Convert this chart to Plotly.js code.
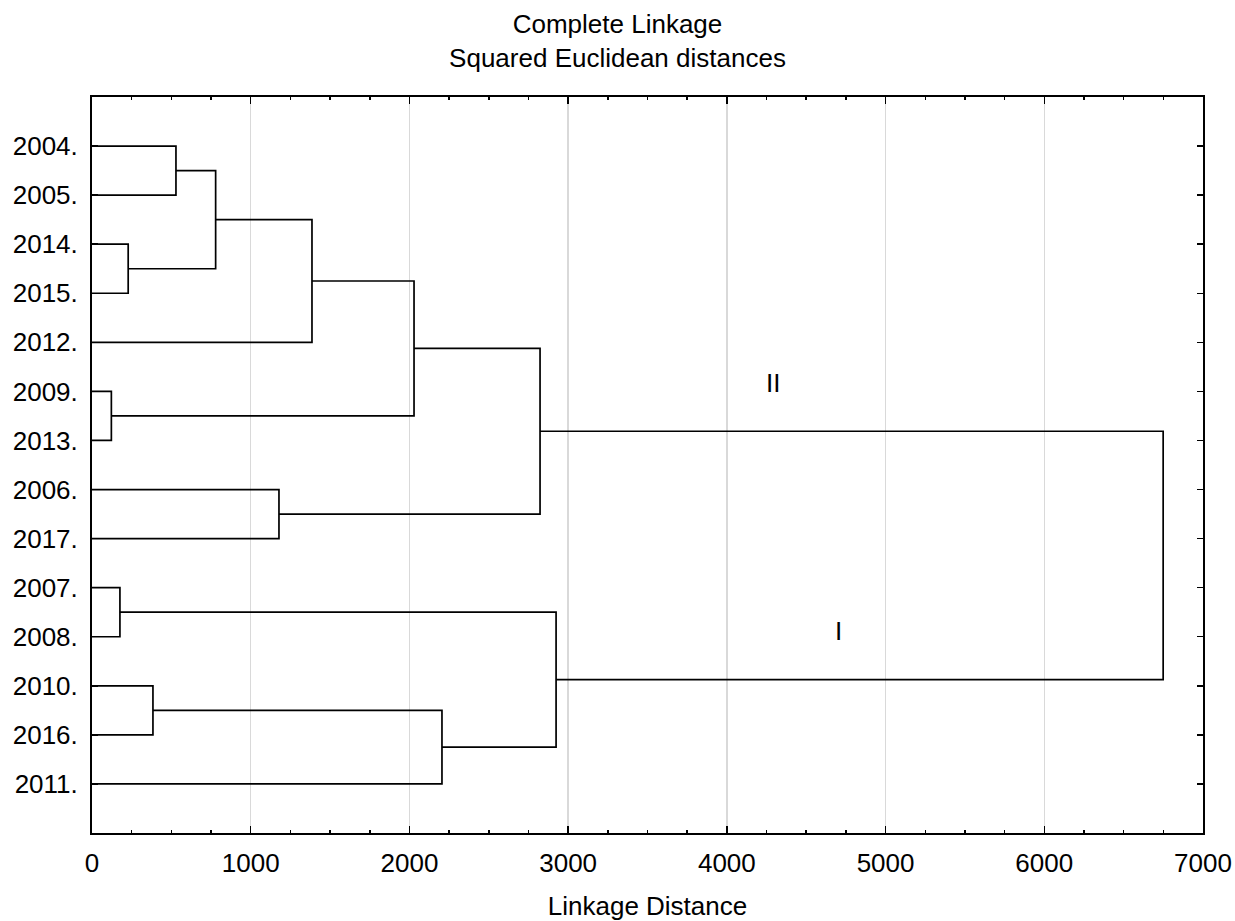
<!DOCTYPE html>
<html>
<head>
<meta charset="utf-8">
<script src="https://cdn.plot.ly/plotly-3.0.1.min.js"></script>
<style>html,body{margin:0;padding:0;background:#fff;}#chart{width:1235px;height:921px;}</style>
</head>
<body>
<div id="chart"></div>
<script>
// Leaf labels in dendrogram order (top to bottom)
const leaves = ["2004.","2005.","2014.","2015.","2012.","2009.","2013.","2006.","2017.","2007.","2008.","2010.","2016.","2011."];
// Merge steps: children (index < 14 = leaf, otherwise cluster 14+k) and linkage distance
const mergeA = [0, 2, 14, 16, 5, 17, 7, 19, 9, 11, 23, 22, 21];
const mergeB = [1, 3, 15, 4, 6, 18, 8, 20, 10, 12, 13, 24, 25];
const mergeHeight = [529, 228, 779, 1386, 122, 2029, 1178, 2823, 176, 384, 2205, 2924, 6749];
// Cluster labels
const clusterLabels = ["II", "I"];
const clusterX = [4291, 4701];
const clusterY = [5.83, 10.88];

const nLeaves = leaves.length;
const pos = [], hgt = [];
for (let i = 0; i < nLeaves; i++) { pos.push(i + 1); hgt.push(0); }
const xs = [], ys = [];
for (let k = 0; k < mergeHeight.length; k++) {
  const a = mergeA[k], b = mergeB[k], h = mergeHeight[k];
  xs.push(hgt[a], h, h, hgt[b], null);
  ys.push(pos[a], pos[a], pos[b], pos[b], null);
  pos.push((pos[a] + pos[b]) / 2);
  hgt.push(h);
}

const font = {family: "Liberation Sans, Arial, sans-serif", size: 26, color: "#000"};

const data = [{
  type: "scatter", mode: "lines", x: xs, y: ys,
  line: {color: "#000", width: 1.7}, hoverinfo: "skip", showlegend: false
}];

const layout = {
  width: 1235, height: 921,
  margin: {l: 92, r: 32, t: 97, b: 88},
  paper_bgcolor: "#fff", plot_bgcolor: "#fff",
  font: font,
  title: {text: "Complete Linkage<br>Squared Euclidean distances", font: font,
          x: 0.5, xref: "container", xanchor: "center", y: 0.964, yref: "container", yanchor: "top"},
  xaxis: {
    range: [0, 7000], dtick: 1000, tick0: 0,
    showline: true, linecolor: "#000", linewidth: 2, mirror: "ticks",
    ticks: "inside", ticklen: 7, tickwidth: 1.5, tickcolor: "#000",
    showgrid: true, gridcolor: "#d9d9d9", gridwidth: 1.5,
    zeroline: false, tickfont: font, ticklabelstandoff: 6,
    minor: {dtick: 250, ticks: "inside", ticklen: 3, tickwidth: 1.5, tickcolor: "#000", showgrid: false},
    title: {text: "Linkage Distance", font: font, standoff: 25}
  },
  yaxis: {
    range: [15, 0], tickmode: "array",
    tickvals: leaves.map((_, i) => i + 1), ticktext: leaves,
    showline: true, linecolor: "#000", linewidth: 2, mirror: "ticks",
    ticks: "inside", ticklen: 6, tickwidth: 1.5, tickcolor: "#000",
    showgrid: false, zeroline: false, tickfont: font, ticklabelstandoff: 7
  },
  annotations: clusterLabels.map((t, i) => ({
    x: clusterX[i], y: clusterY[i], xref: "x", yref: "y", text: t,
    showarrow: false, font: font
  }))
};

Plotly.newPlot("chart", data, layout, {staticPlot: true, displayModeBar: false});
</script>
</body>
</html>
